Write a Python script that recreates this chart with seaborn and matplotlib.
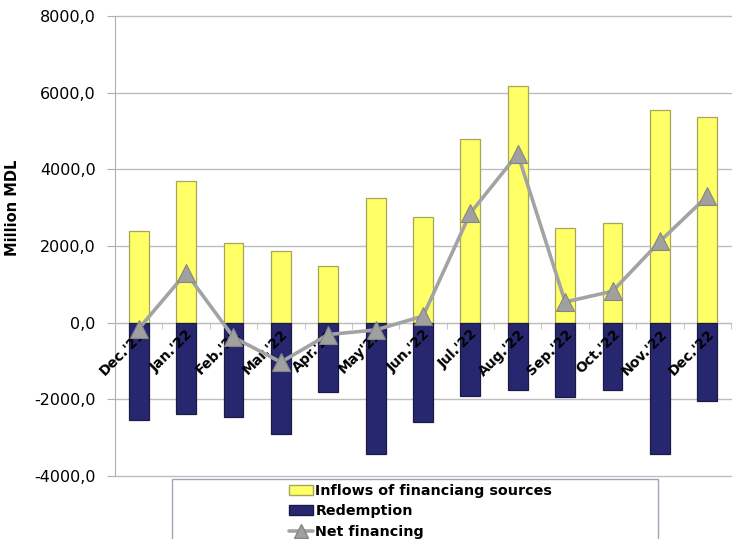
import numpy as np
import pandas as pd
import matplotlib
matplotlib.use("Agg")
import matplotlib.pyplot as plt
import seaborn as sns
from matplotlib.patches import Rectangle, Patch
from matplotlib.lines import Line2D
from matplotlib.ticker import FuncFormatter, FixedLocator

months = ["Dec.'21", "Jan.'22", "Feb.'22", "Mar.'22", "Apr.'22", "May'22", "Jun.'22",
          "Jul.'22", "Aug.'22", "Sep.'22", "Oct.'22", "Nov.'22", "Dec.'22"]
inflows = [2380, 3690, 2070, 1860, 1490, 3240, 2750, 4790, 6170, 2460, 2590, 5540, 5360]
redemption = [-2540, -2390, -2450, -2910, -1800, -3430, -2580, -1910, -1750, -1930, -1760, -3420, -2040]
net = [-160, 1300, -380, -1030, -310, -190, 170, 2860, 4400, 540, 820, 2120, 3300]

legend_labels = ["Inflows of financiang sources", "Redemption", "Net financing"]

sns.set_style("white")
plt.rcParams['font.family'] = ['DejaVu Sans']
plt.rcParams['text.color'] = 'black'
plt.rcParams['axes.labelcolor'] = 'black'
plt.rcParams['xtick.color'] = 'black'
plt.rcParams['ytick.color'] = 'black'

fig = plt.figure(figsize=(7.39, 5.39), dpi=100)
ax = fig.add_axes([115/739, 1-476/539, (731-115)/739, (476-16)/539])

df = pd.DataFrame({"month": months, "inflows": inflows, "redemption": redemption, "net": net})

yellow = "#FFFF66"
navy = "#27276F"
grey = "#A3A3A3"

sns.barplot(data=df, x="month", y="inflows", color=yellow, width=0.42, ax=ax,
            edgecolor="#A6A65A", linewidth=0.9, saturation=1, zorder=3)
sns.barplot(data=df, x="month", y="redemption", color=navy, width=0.42, ax=ax,
            edgecolor="#1A1A45", linewidth=0.9, saturation=1, zorder=3)
sns.lineplot(x=np.arange(len(months)), y=df["net"], ax=ax, color=grey, linewidth=2.6,
             marker="^", markersize=13, markerfacecolor="#A0A0A0", markeredgecolor="#858585",
             markeredgewidth=0.8, zorder=6)

ax.set_xlim(-0.5, len(months) - 0.5)
ax.set_ylim(-4000, 8000)
ax.set_yticks(np.arange(-4000, 8001, 2000))
ax.yaxis.set_major_formatter(FuncFormatter(lambda v, p: f"{v:.1f}".replace(".", ",")))
ax.grid(axis="y", color="#BDBDBD", linewidth=1.0, zorder=0)
ax.grid(axis="x", visible=False)
for gl in ax.get_ygridlines():
    gl.set_clip_on(False)

for s in ["top", "right"]:
    ax.spines[s].set_visible(False)
ax.spines["left"].set_color("#AFAFAF")
ax.spines["bottom"].set_position(("data", 0))
ax.spines["bottom"].set_color("#BDBDBD")

ax.tick_params(axis="y", left=True, length=6, color="#AFAFAF", labelcolor="black",
               labelsize=11.5, pad=8)
ax.set_xticks(np.arange(len(months)))
ax.set_xticklabels(months, rotation=45, ha="right", rotation_mode="anchor",
                   fontsize=10, fontweight="bold", color="black")
ax.tick_params(axis="x", bottom=False, length=0, pad=3)
ax.xaxis.set_minor_locator(FixedLocator(np.arange(-0.5, len(months), 1)))
ax.tick_params(axis="x", which="minor", bottom=True, length=4, color="#BDBDBD")
ax.xaxis.set_zorder(5)

ax.set_xlabel("")
ax.set_ylabel("Million MDL", fontsize=10.5, fontweight="bold", color="black")
ax.yaxis.set_label_coords((20-115)/616, (476-208)/460)

# legend box
fig.patches.append(Rectangle((172/739, -0.1), (658-172)/739, 0.1 + 1 - 479/539,
                             transform=fig.transFigure, fill=False,
                             edgecolor="#9AA8B8", linewidth=1.0))
handles = [Patch(facecolor=yellow, edgecolor="#A6A65A"),
           Patch(facecolor=navy, edgecolor="#1A1A45"),
           Line2D([0], [0], color=grey, linewidth=2.6, marker="^", markersize=10,
                  markerfacecolor="#A0A0A0", markeredgecolor="#858585")]
fig.legend(handles, legend_labels, loc="upper left",
           bbox_to_anchor=(279/739, 1-474/539), frameon=False,
           prop={"weight": "bold", "size": 10.3}, handlelength=1.7,
           handletextpad=0.15, labelspacing=0.45, borderpad=0.2, labelcolor="black")

fig.savefig("out.png", dpi=100)
